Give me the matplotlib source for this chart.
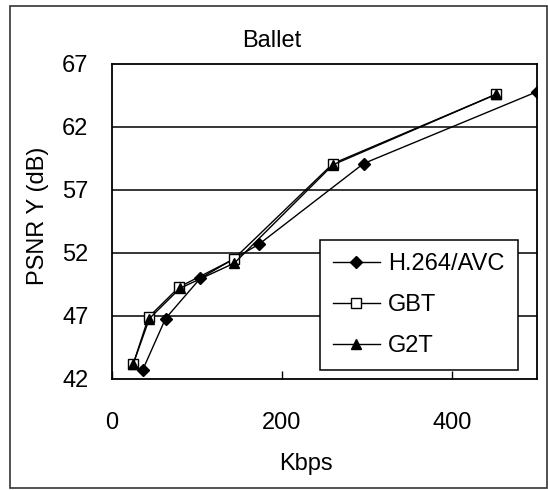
import matplotlib
matplotlib.use("Agg")
import matplotlib.pyplot as plt
from matplotlib.patches import Rectangle

plt.rcParams["font.family"] = ["Liberation Sans", "DejaVu Sans"]

# rate-distortion points for the Ballet sequence
kbps_h264 = [36, 63, 104, 173, 296, 500]
psnr_h264 = [42.7, 46.8, 50.0, 52.7, 59.1, 64.8]
kbps_gbt = [25, 43, 79, 143, 260, 452]
psnr_gbt = [43.2, 46.9, 49.3, 51.5, 59.1, 64.6]
kbps_g2t = [25, 44, 80, 144, 260, 452]
psnr_g2t = [43.2, 46.8, 49.2, 51.2, 59.0, 64.6]

x_ticks = [0, 200, 400]
y_ticks = [42, 47, 52, 57, 62, 67]

FS = 17
W, H = 548, 490

fig = plt.figure(figsize=(W / 100, H / 100), dpi=100)
ax = fig.add_axes([112 / W, 1 - 379 / H, 425 / W, 315 / H])

for y in y_ticks[1:-1]:
    ax.axhline(y, color="black", lw=1.1, zorder=1)

ax.plot(kbps_h264, psnr_h264, color="black", lw=1, marker="D", ms=6,
        mfc="black", mec="black", label="H.264/AVC", zorder=3)
ax.plot(kbps_gbt, psnr_gbt, color="black", lw=1, marker="s", ms=6.5,
        mfc="white", mec="black", mew=1, label="GBT", zorder=3)
ax.plot(kbps_g2t, psnr_g2t, color="black", lw=1, marker="^", ms=7.5,
        mfc="black", mec="black", label="G2T", zorder=4)

ax.set_xlim(0, 500)
ax.set_ylim(42, 67)
ax.set_xticks(x_ticks)
ax.set_yticks(y_ticks)
ax.tick_params(axis="x", direction="in", length=6, width=1, pad=24, labelsize=FS)
ax.tick_params(axis="y", length=0, pad=17, labelsize=FS)
for s in ax.spines.values():
    s.set_linewidth(1.3)

leg = ax.legend(loc="lower left", bbox_to_anchor=(0.489, 0.029), fontsize=FS,
                frameon=True, fancybox=False, framealpha=1, edgecolor="black",
                handlelength=2.0, handletextpad=0.35, labelspacing=0.8,
                borderpad=0.55, borderaxespad=0)
leg.get_frame().set_linewidth(1.1)
leg.set_zorder(5)

fig.text(272 / W, 1 - 41 / H, "Ballet", ha="center", va="center", fontsize=FS)
fig.text(306 / W, 1 - 464 / H, "Kbps", ha="center", va="center", fontsize=FS)
fig.text(38 / W, 1 - 216 / H, "PSNR Y (dB)", ha="center", va="center",
         rotation=90, fontsize=FS)

fig.patches.append(Rectangle((9.5 / W, 2.5 / H), 537 / W, 481 / H,
                             transform=fig.transFigure, fill=False,
                             edgecolor="#333333", lw=1.2))

fig.savefig("out.png", dpi=100)
